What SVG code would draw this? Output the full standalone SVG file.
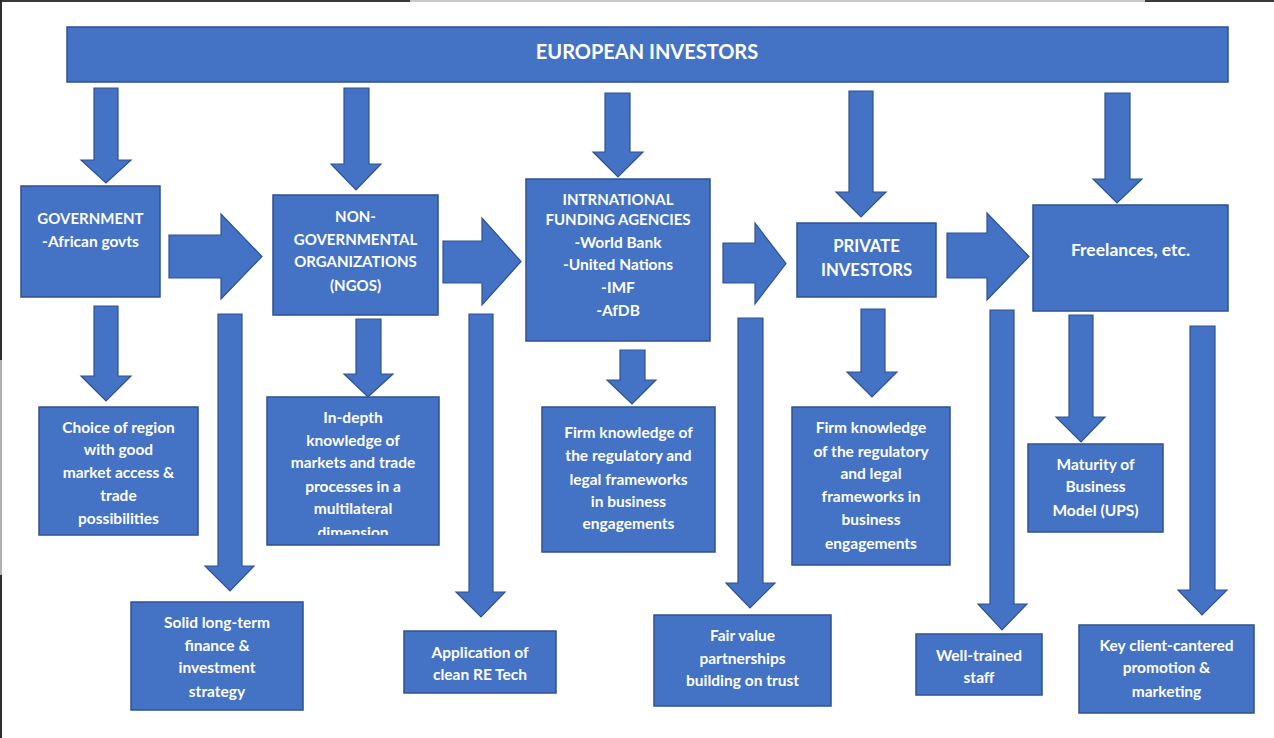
<svg xmlns="http://www.w3.org/2000/svg" width="1274" height="738" viewBox="0 0 1274 738">
  <defs>
    <style>
      .box { fill: #4472C4; stroke: #2F528F; stroke-width: 1.5; }
      .arrow { fill: #4472C4; stroke: #2F528F; stroke-width: 1.2; stroke-linejoin: miter; }
      .t { fill: #FFFFFF; font-family: Lato, "Liberation Sans", sans-serif; font-weight: bold; font-size: 15.5px; text-anchor: middle; }
      .tc { font-size: 15px; }
      .tl { font-size: 16.7px; }
      .tf { font-size: 17.5px; }
      .th { font-size: 20px; }
    </style>
    <clipPath id="clip-indepth">
      <rect x="267" y="397" width="172" height="138"/>
    </clipPath>
  </defs>

  <!-- page background and frame edges -->
  <rect x="0" y="0" width="1274" height="738" fill="#FFFFFF"/>
  <rect x="0" y="0" width="1274" height="2" fill="#3A3A3A"/>
  <rect x="410" y="0" width="735" height="2" fill="#C8C8C8"/>
  <rect x="0" y="0" width="2" height="738" fill="#2E2E2E"/>
  <rect x="0" y="360" width="2" height="215" fill="#B0B0B0"/>

  <!-- connectors -->
  <g id="connectors">
    <!-- from European investors to each investor group -->
    <polygon class="arrow" points="94,88 118,88 118,160 131,160 106,183 81,160 94,160"/>
    <polygon class="arrow" points="344,88 369,88 369,164 381,164 356,190 331,164 344,164"/>
    <polygon class="arrow" points="605,93 630,93 630,152 643,152 618,177 593,152 605,152"/>
    <polygon class="arrow" points="849,91 873,91 873,192 886,192 861,217 836,192 849,192"/>
    <polygon class="arrow" points="1105,93 1130,93 1130,179 1142,179 1117,203 1093,179 1105,179"/>

    <!-- horizontal links between groups -->
    <polygon class="arrow" points="169,235 221,235 221,214 262,256.5 221,299 221,278 169,278"/>
    <polygon class="arrow" points="443,241 482,241 482,218 521,261.5 482,305 482,283 443,283"/>
    <polygon class="arrow" points="723,243 755,243 755,223 786,263.5 755,304 755,283 723,283"/>
    <polygon class="arrow" points="947,233 987,233 987,213 1029,256.5 987,300 987,278 947,278"/>

    <!-- down to success factors -->
    <polygon class="arrow" points="94,306 118,306 118,376 131,376 106,401 81,376 94,376"/>
    <polygon class="arrow" points="218,314 242,314 242,566 254,566 230,591 205,566 218,566"/>
    <polygon class="arrow" points="356,319 381,319 381,374 393,374 368,397 344,374 356,374"/>
    <polygon class="arrow" points="469,314 493,314 493,592 505,592 481,617 456,592 469,592"/>
    <polygon class="arrow" points="620,350 645,350 645,380 656,380 632,404 607,380 620,380"/>
    <polygon class="arrow" points="738,318 763,318 763,583 775,583 750,608 726,583 738,583"/>
    <polygon class="arrow" points="861,309 885,309 885,372 897,372 872,397 847,372 861,372"/>
    <polygon class="arrow" points="990,310 1014,310 1014,604 1027,604 1002,630 978,604 990,604"/>
    <polygon class="arrow" points="1069,315 1093,315 1093,417 1105,417 1081,442 1056,417 1069,417"/>
    <polygon class="arrow" points="1190,326 1215,326 1215,590 1227,590 1202,615 1178,590 1190,590"/>
  </g>

  <g id="european-investors">
    <rect class="box" x="67" y="27" width="1161" height="55"/>
    <text class="t th" x="647" y="59">EUROPEAN INVESTORS</text>
  </g>

  <g id="government">
    <rect class="box" x="21" y="186" width="139" height="111"/>
    <text class="t tc" x="90.5" y="224">GOVERNMENT</text>
    <text class="t" x="90.5" y="247">-African govts</text>
  </g>

  <g id="ngos">
    <rect class="box" x="273" y="195" width="165" height="120"/>
    <text class="t tc" x="355.5" y="222">NON-</text>
    <text class="t tc" x="355.5" y="245">GOVERNMENTAL</text>
    <text class="t tc" x="355.5" y="267">ORGANIZATIONS</text>
    <text class="t tc" x="355.5" y="291">(NGOS)</text>
  </g>

  <g id="funding-agencies">
    <rect class="box" x="526" y="179" width="184" height="162"/>
    <text class="t tc" x="618" y="205">INTRNATIONAL</text>
    <text class="t tc" x="618" y="225">FUNDING AGENCIES</text>
    <text class="t" x="618" y="248">-World Bank</text>
    <text class="t" x="618" y="270">-United Nations</text>
    <text class="t" x="618" y="293">-IMF</text>
    <text class="t" x="618" y="316">-AfDB</text>
  </g>

  <g id="private-investors">
    <rect class="box" x="797" y="223" width="139" height="74"/>
    <text class="t tl" x="866.5" y="251.5">PRIVATE</text>
    <text class="t tl" x="866.5" y="275.5">INVESTORS</text>
  </g>

  <g id="freelances">
    <rect class="box" x="1033" y="205" width="195" height="106"/>
    <text class="t tf" x="1130.5" y="256">Freelances, etc.</text>
  </g>

  <g id="region-choice">
    <rect class="box" x="39" y="407" width="159" height="128"/>
    <text class="t" x="118.5" y="433">Choice of region</text>
    <text class="t" x="118.5" y="455">with good</text>
    <text class="t" x="118.5" y="478">market access &amp;</text>
    <text class="t" x="118.5" y="501">trade</text>
    <text class="t" x="118.5" y="524">possibilities</text>
  </g>

  <g id="finance-strategy">
    <rect class="box" x="131" y="602" width="172" height="108"/>
    <text class="t" x="217" y="628">Solid long-term</text>
    <text class="t" x="217" y="651">finance &amp;</text>
    <text class="t" x="217" y="673">investment</text>
    <text class="t" x="217" y="697">strategy</text>
  </g>

  <g id="market-knowledge">
    <rect class="box" x="267" y="397" width="172" height="148"/>
    <g clip-path="url(#clip-indepth)">
      <text class="t" x="353" y="423">In-depth</text>
      <text class="t" x="353" y="446">knowledge of</text>
      <text class="t" x="353" y="468">markets and trade</text>
      <text class="t" x="353" y="492">processes in a</text>
      <text class="t" x="353" y="514">multilateral</text>
      <text class="t" x="353" y="538">dimension</text>
    </g>
  </g>

  <g id="clean-tech">
    <rect class="box" x="404" y="631" width="152" height="62"/>
    <text class="t" x="480" y="658">Application of</text>
    <text class="t" x="480" y="680">clean RE Tech</text>
  </g>

  <g id="regulatory-knowledge-1">
    <rect class="box" x="542" y="407" width="173" height="145"/>
    <text class="t" x="628.5" y="438">Firm knowledge of</text>
    <text class="t" x="628.5" y="461">the regulatory and</text>
    <text class="t" x="628.5" y="485">legal frameworks</text>
    <text class="t" x="628.5" y="507">in business</text>
    <text class="t" x="628.5" y="529">engagements</text>
  </g>

  <g id="fair-value">
    <rect class="box" x="654" y="615" width="177" height="91"/>
    <text class="t" x="742.5" y="641">Fair value</text>
    <text class="t" x="742.5" y="664">partnerships</text>
    <text class="t" x="742.5" y="686">building on trust</text>
  </g>

  <g id="regulatory-knowledge-2">
    <rect class="box" x="792" y="407" width="158" height="158"/>
    <text class="t" x="871" y="433">Firm knowledge</text>
    <text class="t" x="871" y="457">of the regulatory</text>
    <text class="t" x="871" y="479">and legal</text>
    <text class="t" x="871" y="502">frameworks in</text>
    <text class="t" x="871" y="525">business</text>
    <text class="t" x="871" y="549">engagements</text>
  </g>

  <g id="trained-staff">
    <rect class="box" x="916" y="634" width="126" height="61"/>
    <text class="t" x="979" y="661">Well-trained</text>
    <text class="t" x="979" y="683">staff</text>
  </g>

  <g id="business-model">
    <rect class="box" x="1028" y="444" width="135" height="88"/>
    <text class="t" x="1095.5" y="470">Maturity of</text>
    <text class="t" x="1095.5" y="492">Business</text>
    <text class="t" x="1095.5" y="516">Model (UPS)</text>
  </g>

  <g id="client-marketing">
    <rect class="box" x="1079" y="625" width="175" height="88"/>
    <text class="t" x="1166.5" y="651">Key client-cantered</text>
    <text class="t" x="1166.5" y="673">promotion &amp;</text>
    <text class="t" x="1166.5" y="697">marketing</text>
  </g>
</svg>
